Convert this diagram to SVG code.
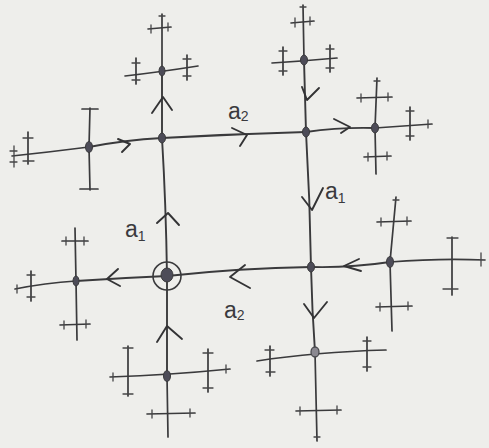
<svg xmlns="http://www.w3.org/2000/svg" width="489" height="448" viewBox="0 0 489 448">
<style>
.bg{fill:#eeeeeb}
.ln{fill:none;stroke:#3a3a3c;stroke-width:1.9;stroke-linecap:round;stroke-linejoin:round}
.st{fill:none;stroke:#3a3a3c;stroke-width:1.7;stroke-linecap:round}
.tk{fill:none;stroke:#454547;stroke-width:1.3;stroke-linecap:round}
.ar{fill:none;stroke:#333335;stroke-width:1.9;stroke-linecap:round;stroke-linejoin:round}
.dot{fill:#4d4c58;stroke:#3a3a3c;stroke-width:1}
.lbl{font-family:"Liberation Sans","DejaVu Sans",sans-serif;font-size:23px;fill:#3a3a3e}
.sub{font-size:14px;fill:#3a3a3e}
</style>
<rect class="bg" x="0" y="0" width="489" height="448"/>

<g id="connectors">
  <path class="ln" d="M167,276 Q166,205 162,138"/>
  <path class="ar" d="M157,223 L168,213 L179,225"/>
  <path class="ln" d="M162,138 L162,71"/>
  <path class="ar" d="M152,113 L163,97 L172,110"/>
  <path class="ln" d="M89,147 Q125,140 162,138"/>
  <path class="ar" d="M118,139 L130,144 L122,152"/>
  <path class="ln" d="M162,138 Q235,134 306,132"/>
  <path class="ar" d="M232,128 L247,135 L240,146"/>
  <path class="ln" d="M304,60 L306,132"/>
  <path class="ar" d="M302,87 L307,100 L319,88"/>
  <path class="ln" d="M306,132 Q340,127 375,128"/>
  <path class="ar" d="M334,119 L350,127 L341,133"/>
  <path class="ln" d="M306,132 Q310,200 311,267"/>
  <path class="ar" d="M302,197 L312,210 L323,188"/>
  <path class="ln" d="M311,267 Q240,268 167,276"/>
  <path class="ar" d="M245,265 L230,277 L250,288"/>
  <path class="ln" d="M390,262 Q350,268 311,267"/>
  <path class="ar" d="M359,259 L344,266 L361,271"/>
  <path class="ln" d="M311,267 Q312,310 315,352"/>
  <path class="ar" d="M304,304 L314,318 L327,302"/>
  <path class="ln" d="M167,276 Q120,278 76,281"/>
  <path class="ar" d="M118,269 L107,279 L120,286"/>
  <path class="ln" d="M167,376 L167,276"/>
  <path class="ar" d="M157,342 L167,326 L182,339"/>
</g>

<g id="labels">
  <text class="lbl" x="125" y="237">a<tspan class="sub" dy="4">1</tspan></text>
  <text class="lbl" x="228" y="119">a<tspan class="sub" dy="2">2</tspan></text>
  <text class="lbl" x="325" y="199">a<tspan class="sub" dy="4">1</tspan></text>
  <text class="lbl" x="224" y="318">a<tspan class="sub" dy="2">2</tspan></text>
</g>

<g id="node-e">
  <circle cx="167" cy="276" r="14" fill="none" stroke="#3a3a3c" stroke-width="1.6"/>
  <ellipse class="dot" cx="167" cy="275" rx="6" ry="7"/>
</g>

<g id="node-A">
  <ellipse class="dot" cx="162" cy="138" rx="3.5" ry="5"/>
</g>

<g id="node-B">
  <ellipse class="dot" cx="306" cy="132" rx="3.5" ry="5"/>
</g>

<g id="node-C">
  <ellipse class="dot" cx="311" cy="267" rx="3.5" ry="5"/>
</g>

<g id="node-L">
  <path class="st" d="M125,76 Q160,72 198,66 M162,71 L162,14"/>
  <path class="st" d="M136,58 L136,84 M187,55 L187,80 M148,29 L171,27"/>
  <path class="tk" d="M132,63 L140,63 M132,80 L140,80 M183,59 L191,59 M183,76 L191,76 M151,25 L151,33 M168,23 L168,31 M159,16 L165,16"/>
  <ellipse class="dot" cx="162" cy="71" rx="3" ry="5"/>
</g>

<g id="node-D">
  <path class="st" d="M12,156 Q50,152 89,147 M90,108 L89,147 L90,190"/>
  <path class="st" d="M28,132 L28,164 M82,109 L98,109 M80,189 L98,189"/>
  <path class="tk" d="M23,138 L33,138 M23,161 L34,161 M14,146 L14,167 M10,151 L17,151 M10,162 L17,162"/>
  <ellipse class="dot" cx="89" cy="147" rx="3.5" ry="5.5"/>
</g>

<g id="node-E">
  <path class="st" d="M272,63 Q304,61 337,58 M304,60 L303,5"/>
  <path class="st" d="M283,47 L283,75 M330,45 L330,72 M291,23 L314,21"/>
  <path class="tk" d="M279,51 L287,51 M279,71 L287,71 M326,49 L334,49 M326,68 L334,68 M295,18 L295,27 M310,17 L310,25 M300,7 L306,7"/>
  <ellipse class="dot" cx="304" cy="60" rx="3.5" ry="5"/>
</g>

<g id="node-F">
  <path class="st" d="M375,128 Q405,126 432,124 M377,78 L375,128 L376,174"/>
  <path class="st" d="M410,107 L410,140 M357,98 L392,97 M364,157 L391,156"/>
  <path class="tk" d="M406,111 L414,111 M406,136 L414,136 M361,94 L361,102 M388,93 L388,101 M368,153 L368,161 M387,152 L387,160 M374,81 L380,81 M428,120 L428,128"/>
  <ellipse class="dot" cx="375" cy="128" rx="3.5" ry="5"/>
</g>

<g id="node-G">
  <path class="st" d="M390,262 Q440,258 485,260 M396,197 L390,262 L392,331"/>
  <path class="st" d="M452,237 L452,295 M377,222 L411,221 M376,307 L412,306"/>
  <path class="tk" d="M447,238 L458,238 M443,289 L458,289 M481,253 L481,266 M381,218 L381,226 M407,217 L407,225 M380,303 L380,311 M408,302 L408,310 M393,200 L399,200"/>
  <ellipse class="dot" cx="390" cy="262" rx="3.5" ry="5.5"/>
</g>

<g id="node-H">
  <path class="st" d="M257,361 Q315,352 386,350 M315,352 L317,441"/>
  <path class="st" d="M270,346 L270,376 M367,337 L367,371 M296,411 L341,410"/>
  <path class="tk" d="M265,350 L274,350 M266,372 L275,372 M363,341 L371,341 M363,367 L371,367 M300,407 L300,415 M337,406 L337,414 M314,437 L320,437"/>
  <ellipse cx="315" cy="352" rx="4" ry="5" fill="#8a8890" stroke="#4a4a4e" stroke-width="1.3"/>
</g>

<g id="node-J">
  <path class="st" d="M15,289 Q45,283 76,281 M75,228 L76,281 L77,340"/>
  <path class="st" d="M31,271 L31,301 M62,241 L88,241 M60,325 L90,324"/>
  <path class="tk" d="M27,275 L35,275 M27,297 L35,297 M66,237 L66,245 M84,237 L84,245 M64,321 L64,329 M86,320 L86,328 M17,285 L17,293"/>
  <ellipse class="dot" cx="76" cy="281" rx="3" ry="5"/>
</g>

<g id="node-K">
  <path class="st" d="M110,377 Q170,375 230,369 M167,376 L168,437"/>
  <path class="st" d="M128,346 L128,396 M208,349 L208,392 M147,414 L195,413"/>
  <path class="tk" d="M123,348 L133,348 M123,394 L133,394 M203,353 L213,353 M203,388 L213,388 M152,410 L152,418 M190,409 L190,417 M226,365 L226,373 M113,373 L113,381"/>
  <ellipse class="dot" cx="167" cy="376" rx="3.5" ry="5.5"/>
</g>
</svg>
